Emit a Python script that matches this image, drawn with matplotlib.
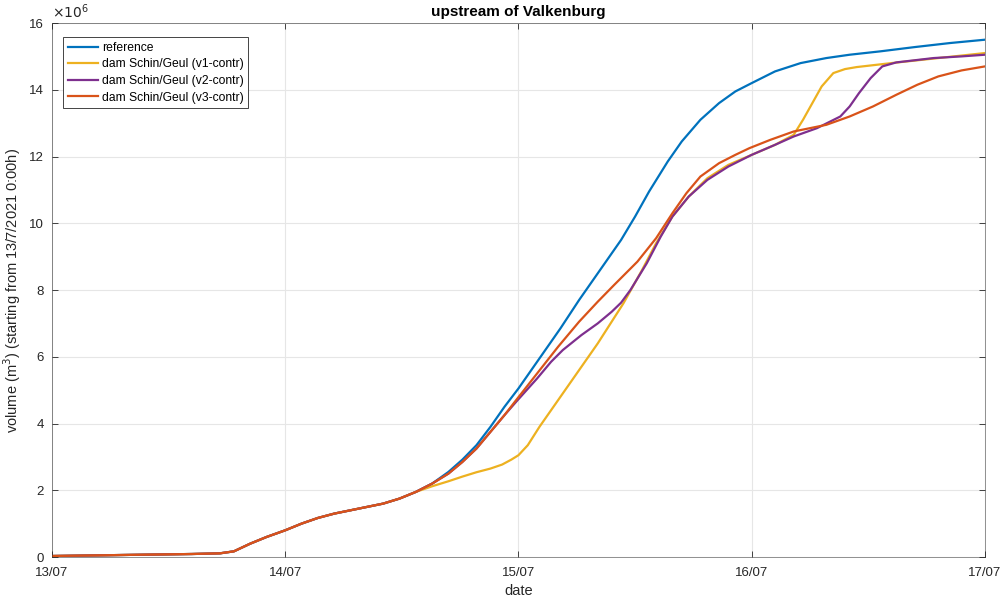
import numpy as np
import matplotlib.pyplot as plt

plt.rcParams['font.family'] = ['Liberation Sans', 'DejaVu Sans']

# days since 13/07/2021 0:00h, volume in 10^6 m3
t_common = [0, 0.2, 0.4, 0.6, 0.72, 0.78, 0.85, 0.92, 1.0, 1.07, 1.14, 1.21,
            1.28, 1.35, 1.42, 1.49, 1.56]
v_common = [0.03, 0.05, 0.07, 0.09, 0.11, 0.17, 0.4, 0.6, 0.8, 1.0, 1.17, 1.3,
            1.4, 1.5, 1.6, 1.75, 1.95]

t_ref = [1.63, 1.7, 1.76, 1.82, 1.88, 1.94, 2.0, 2.05, 2.12, 2.18, 2.26, 2.38,
         2.44, 2.5, 2.56, 2.64, 2.7, 2.78, 2.86, 2.93, 3.0, 3.1, 3.21, 3.32,
         3.42, 3.55, 3.7, 3.85, 4.0]
v_ref = [2.2, 2.55, 2.92, 3.35, 3.9, 4.5, 5.05, 5.55, 6.25, 6.85, 7.7, 8.9,
         9.5, 10.2, 10.95, 11.85, 12.45, 13.1, 13.6, 13.95, 14.2, 14.55, 14.8, 14.95,
         15.05, 15.15, 15.28, 15.4, 15.5]

t_v1 = [1.63, 1.7, 1.76, 1.82, 1.88, 1.93, 1.97, 2.0, 2.04, 2.09, 2.16, 2.23,
        2.34, 2.45, 2.53, 2.59, 2.66, 2.73, 2.81, 2.9, 3.0, 3.1, 3.18, 3.22,
        3.26, 3.3, 3.35, 3.4, 3.45, 3.6, 3.8, 4.0]
v_v1 = [2.12, 2.27, 2.41, 2.54, 2.65, 2.77, 2.92, 3.05, 3.35, 3.9, 4.6, 5.3,
        6.4, 7.6, 8.6, 9.4, 10.2, 10.8, 11.35, 11.75, 12.05, 12.35, 12.65, 13.1,
        13.6, 14.1, 14.5, 14.62, 14.68, 14.8, 14.95, 15.1]

t_v2 = [1.63, 1.7, 1.76, 1.82, 1.88, 1.94, 1.99, 2.08, 2.14, 2.19, 2.27, 2.34,
        2.4, 2.44, 2.48, 2.55, 2.61, 2.66, 2.73, 2.81, 2.9, 3.0, 3.1, 3.18,
        3.28, 3.38, 3.42, 3.46, 3.51, 3.56, 3.62, 3.78, 3.9, 4.0]
v_v2 = [2.2, 2.5, 2.85, 3.25, 3.75, 4.25, 4.65, 5.35, 5.85, 6.2, 6.65, 7.0,
        7.35, 7.62, 8.0, 8.8, 9.6, 10.2, 10.8, 11.3, 11.7, 12.05, 12.35, 12.6,
        12.85, 13.2, 13.5, 13.9, 14.35, 14.7, 14.82, 14.95, 15.0, 15.05]

t_v3 = [1.63, 1.7, 1.76, 1.82, 1.88, 1.94, 1.99, 2.08, 2.17, 2.26, 2.34, 2.41,
        2.51, 2.59, 2.66, 2.72, 2.78, 2.86, 2.93, 2.99, 3.08, 3.18, 3.25, 3.32,
        3.42, 3.52, 3.62, 3.71, 3.8, 3.9, 4.0]
v_v3 = [2.2, 2.5, 2.85, 3.25, 3.75, 4.25, 4.7, 5.5, 6.3, 7.05, 7.65, 8.15,
        8.85, 9.55, 10.3, 10.9, 11.4, 11.8, 12.05, 12.25, 12.5, 12.75, 12.85, 12.95,
        13.2, 13.5, 13.85, 14.15, 14.4, 14.58, 14.7]

labels = ['reference', 'dam Schin/Geul (v1-contr)', 'dam Schin/Geul (v2-contr)',
          'dam Schin/Geul (v3-contr)']
colors = ['#0072BD', '#EDB120', '#7E2F8E', '#D95319']
date_ticks = [0, 1, 2, 3, 4]
date_labels = ['13/07', '14/07', '15/07', '16/07', '17/07']

fig = plt.figure(figsize=(10.03, 6.01), dpi=100)
ax = fig.add_axes([0.0518, 0.0732, 0.9302, 0.8885])

series = [(t_ref, v_ref), (t_v1, v_v1), (t_v2, v_v2), (t_v3, v_v3)]
for (t, v), lab, c in zip(series, labels, colors):
    ax.plot(t_common + t, v_common + v, color=c, lw=1.6, label=lab)

ax.set_xlim(0, 4)
ax.set_ylim(0, 16)
ax.set_xticks(date_ticks)
ax.set_xticklabels(date_labels)
ax.set_yticks(np.arange(0, 17, 2))
ax.grid(True, color='#e6e6e6', lw=0.8)
ax.set_axisbelow(True)
for s in ax.spines.values():
    s.set_color('#262626')
    s.set_linewidth(0.6)
    s.set_alpha(0.6)
ax.tick_params(direction='in', top=True, right=True, labelsize=9.5,
               colors='#262626', length=4, width=0.6)
ax.tick_params(axis='x', pad=7)
ax.tick_params(axis='y', pad=6)

ax.set_title('upstream of Valkenburg', fontsize=11, fontweight='bold', pad=5)
ax.set_xlabel('date', fontsize=10.5, color='#262626', labelpad=4)
ax.set_ylabel('volume (m$^3$) (starting from 13/7/2021 0:00h)', fontsize=10.5,
              color='#262626')
ax.text(0, 1.004, r'$\times10^{6}$', transform=ax.transAxes, fontsize=10,
        color='#262626', va='bottom', ha='left')

leg = ax.legend(loc='upper left', bbox_to_anchor=(0.012, 0.974), fontsize=8.7,
                fancybox=False, framealpha=1, edgecolor='#262626',
                handlelength=2.5, borderpad=0.4, labelspacing=0.38,
                handletextpad=0.3, borderaxespad=0)
leg.get_frame().set_linewidth(0.6)

fig.savefig('out.png', dpi=100)
